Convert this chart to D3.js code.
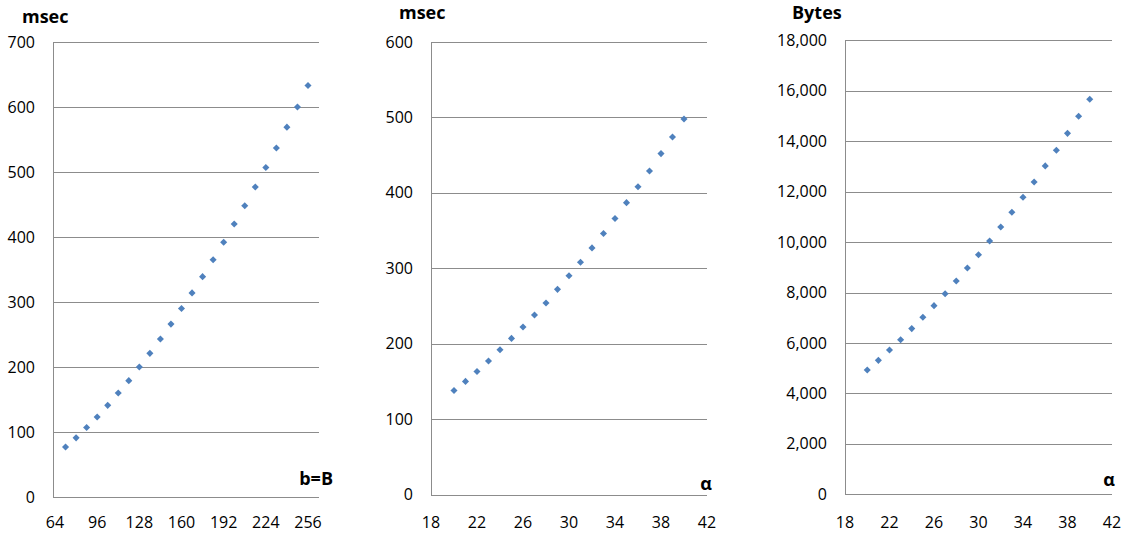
<!DOCTYPE html>
<html>
<head>
<meta charset="utf-8">
<script src="https://cdn.jsdelivr.net/npm/d3@7"></script>
<style>
  body { margin: 0; background: #fff; }
  text { font-family: 'Open Sans', Lato, sans-serif; fill: #000; }
</style>
</head>
<body>
<div id="chart"></div>
<script>
// panel 1: time vs b=B
let blockSizes = [72, 80, 88, 96, 104, 112, 120, 128, 136, 144, 152, 160, 168, 176, 184, 192, 200, 208, 216, 224, 232, 240, 248, 256]
let blockTimes = [77, 91, 107, 123, 141, 160, 179, 200, 221, 243, 266, 290, 314, 339, 365, 392, 420, 448, 477, 507, 537, 569, 600, 633]
let blockXTicks = [64, 96, 128, 160, 192, 224, 256]
let blockYTicks = [0, 100, 200, 300, 400, 500, 600, 700]

// panel 2: time vs alpha
let alphas = [20, 21, 22, 23, 24, 25, 26, 27, 28, 29, 30, 31, 32, 33, 34, 35, 36, 37, 38, 39, 40]
let alphaTimes = [138, 150, 163, 177, 192, 207, 222, 238, 254, 272, 290, 308, 327, 346, 366, 387, 408, 429, 452, 474, 498]
let alphaXTicks = [18, 22, 26, 30, 34, 38, 42]
let alphaYTicks = [0, 100, 200, 300, 400, 500, 600]

// panel 3: bytes vs alpha
let alphaBytes = [4930, 5310, 5720, 6130, 6570, 7020, 7480, 7950, 8460, 8970, 9500, 10040, 10600, 11180, 11780, 12380, 13020, 13640, 14310, 14990, 15660]
let bytesYTicks = [0, 2000, 4000, 6000, 8000, 10000, 12000, 14000, 16000, 18000]

let svg = d3
  .select('#chart')
  .append('svg')
  .attr('width', 1124)
  .attr('height', 533)

let panels = [
  {
    xs: blockSizes, ys: blockTimes, xTicks: blockXTicks, yTicks: blockYTicks,
    xDomain: [64, 256], xRange: [55, 308], left: 53, right: 319,
    yDomain: [0, 700], yRange: [497, 42],
    yTitle: 'msec', yTitleX: 22, yTitleY: 23,
    xTitle: 'b=B', xTitleX: 333, xTitleY: 485,
    fmt: d3.format('d')
  },
  {
    xs: alphas, ys: alphaTimes, xTicks: alphaXTicks, yTicks: alphaYTicks,
    xDomain: [18, 42], xRange: [431, 707], left: 431, right: 707,
    yDomain: [0, 600], yRange: [494.5, 42],
    yTitle: 'msec', yTitleX: 399, yTitleY: 19,
    xTitle: 'α', xTitleX: 712, xTitleY: 490,
    fmt: d3.format('d')
  },
  {
    xs: alphas, ys: alphaBytes, xTicks: alphaXTicks, yTicks: bytesYTicks,
    xDomain: [18, 42], xRange: [845, 1112], left: 845, right: 1112,
    yDomain: [0, 18000], yRange: [494.3, 40.3],
    yTitle: 'Bytes', yTitleX: 792, yTitleY: 19,
    xTitle: 'α', xTitleX: 1115, xTitleY: 486,
    fmt: d3.format(',')
  }
]

let diamond = d3.symbol().type(d3.symbolSquare).size(25)

panels.forEach(p => {
  let x = d3.scaleLinear().domain(p.xDomain).range(p.xRange)
  let y = d3.scaleLinear().domain(p.yDomain).range(p.yRange)
  let g = svg.append('g')

  // horizontal gridlines
  g.selectAll('.grid')
    .data(p.yTicks.filter(d => d > 0))
    .enter()
    .append('line')
    .attr('x1', p.left)
    .attr('x2', p.right)
    .attr('y1', d => Math.round(y(d)) + 0.5)
    .attr('y2', d => Math.round(y(d)) + 0.5)
    .attr('stroke', '#8c8c8c')
    .attr('stroke-width', 1)

  // axes lines
  g.append('line')
    .attr('x1', p.left + 0.5).attr('x2', p.left + 0.5)
    .attr('y1', Math.round(y(p.yDomain[1])) + 0.5)
    .attr('y2', Math.round(y(0)) + 0.5)
    .attr('stroke', '#8c8c8c')
  g.append('line')
    .attr('x1', p.left).attr('x2', p.right)
    .attr('y1', Math.round(y(0)) + 0.5)
    .attr('y2', Math.round(y(0)) + 0.5)
    .attr('stroke', '#8c8c8c')

  // y tick labels
  g.selectAll('.ylab')
    .data(p.yTicks)
    .enter()
    .append('text')
    .attr('x', p.left - 18)
    .attr('y', d => y(d))
    .attr('dy', '0.35em')
    .attr('text-anchor', 'end')
    .attr('font-size', 16)
    .text(p.fmt)

  // x tick labels
  g.selectAll('.xlab')
    .data(p.xTicks)
    .enter()
    .append('text')
    .attr('x', d => x(d))
    .attr('y', 528)
    .attr('text-anchor', 'middle')
    .attr('font-size', 16)
    .text(d => d)

  // titles
  g.append('text')
    .attr('x', p.yTitleX)
    .attr('y', p.yTitleY)
    .attr('font-size', 18)
    .attr('font-weight', 'bold')
    .text(p.yTitle)
  g.append('text')
    .attr('x', p.xTitleX)
    .attr('y', p.xTitleY)
    .attr('text-anchor', 'end')
    .attr('font-size', 18)
    .attr('font-weight', 'bold')
    .text(p.xTitle)

  // points
  g.selectAll('.pt')
    .data(p.xs)
    .enter()
    .append('path')
    .attr('d', diamond)
    .attr('transform', (d, i) => `translate(${x(d)}, ${y(p.ys[i])}) rotate(45)`)
    .attr('fill', '#4f81bd')
})
</script>
</body>
</html>
